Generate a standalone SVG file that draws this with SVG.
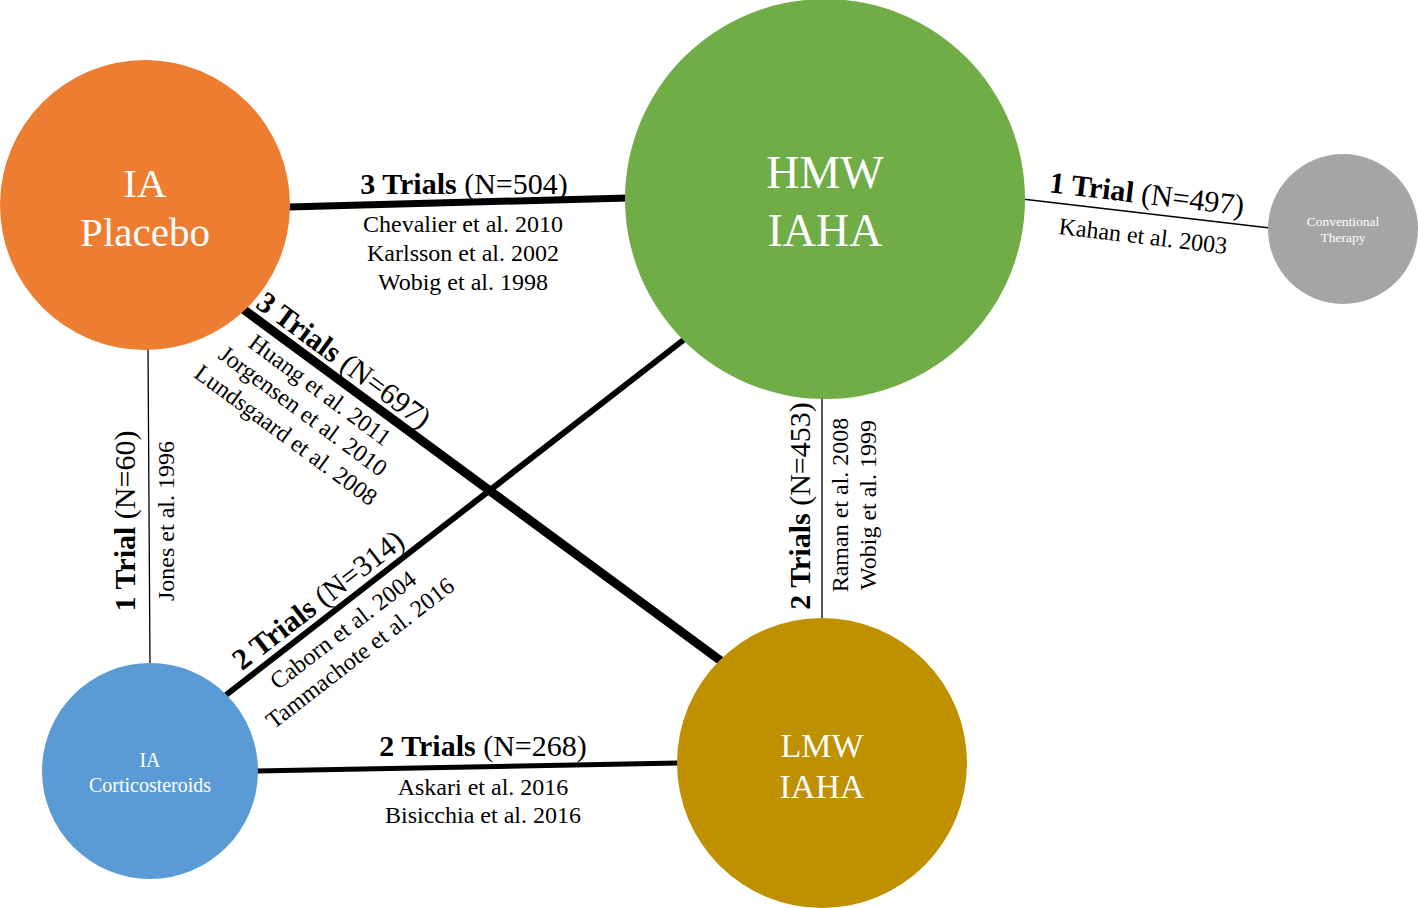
<svg xmlns="http://www.w3.org/2000/svg" width="1418" height="908" viewBox="0 0 1418 908">
<style>
text{font-family:"Liberation Serif","Times New Roman",serif;}
.lab{font-size:30px;fill:#000;text-anchor:middle;}
.cit{font-size:24px;fill:#000;text-anchor:middle;}
.b{font-weight:bold;}
.nt{fill:#fff;text-anchor:middle;}
.e{stroke:#000;fill:none;}
</style>
<rect width="1418" height="908" fill="#fff"/>
<g id="connectors">
<line class="e" x1="288" y1="207" x2="628" y2="198" stroke-width="7"/>
<line class="e" x1="1022" y1="199" x2="1270" y2="228" stroke-width="1.3"/>
<line class="e" x1="148" y1="348" x2="150" y2="665" stroke-width="1.3"/>
<line class="e" x1="243" y1="309" x2="721" y2="661" stroke-width="9"/>
<line class="e" x1="226" y1="695" x2="686" y2="338" stroke-width="6"/>
<line class="e" x1="256" y1="771" x2="679" y2="763" stroke-width="5"/>
<line class="e" x1="822" y1="396" x2="822" y2="620" stroke-width="1.3"/>
</g>
<g id="edge-labels">
<text class="lab" x="464" y="194"><tspan class="b">3 Trials</tspan> (N=504)</text>
<text class="cit" x="463" y="232">Chevalier et al. 2010</text>
<text class="cit" x="463" y="261">Karlsson et al. 2002</text>
<text class="cit" x="463" y="290">Wobig et al. 1998</text>
<g transform="translate(1147,194) rotate(6.8)"><text class="lab" y="10"><tspan class="b">1 Trial</tspan> (N=497)</text></g>
<g transform="translate(1143,236) rotate(6.8)"><text class="cit" y="8">Kahan et al. 2003</text></g>
<g transform="translate(344,360) rotate(36.4)"><text class="lab" y="10"><tspan class="b">3 Trials</tspan> (N=697)</text></g>
<g transform="translate(320,390) rotate(36.4)"><text class="cit" y="8">Huang et al. 2011</text></g>
<g transform="translate(303,411) rotate(36.4)"><text class="cit" y="8">Jorgensen et al. 2010</text></g>
<g transform="translate(286,435) rotate(36.4)"><text class="cit" y="8">Lundsgaard et al. 2008</text></g>
<g transform="translate(318,600) rotate(-37.7)"><text class="lab" y="10"><tspan class="b">2 Trials</tspan> (N=314)</text></g>
<g transform="translate(343,630) rotate(-37.7)"><text class="cit" y="8">Caborn et al. 2004</text></g>
<g transform="translate(360,653) rotate(-37.7)"><text class="cit" y="8">Tammachote et al. 2016</text></g>
<g transform="translate(125,521) rotate(-90)"><text class="lab" y="10"><tspan class="b">1 Trial</tspan> (N=60)</text></g>
<g transform="translate(166,521) rotate(-90)"><text class="cit" y="8">Jones et al. 1996</text></g>
<g transform="translate(800,506) rotate(-90)"><text class="lab" y="10"><tspan class="b">2 Trials</tspan> (N=453)</text></g>
<g transform="translate(840,505) rotate(-90)"><text class="cit" y="8">Raman et al. 2008</text></g>
<g transform="translate(868,505) rotate(-90)"><text class="cit" y="8">Wobig et al. 1999</text></g>
<text class="lab" x="483" y="756"><tspan class="b">2 Trials</tspan> (N=268)</text>
<text class="cit" x="483" y="795">Askari et al. 2016</text>
<text class="cit" x="483" y="823">Bisicchia et al. 2016</text>
</g>
<g id="node-placebo">
<circle cx="145" cy="205" r="145" fill="#ED7D31"/>
<text class="nt" x="145" y="197" font-size="41">IA</text>
<text class="nt" x="145" y="246" font-size="41">Placebo</text>
</g>
<g id="node-hmw">
<circle cx="825" cy="199" r="200" fill="#70AD47"/>
<text class="nt" x="825" y="188" font-size="46">HMW</text>
<text class="nt" x="825" y="246" font-size="46">IAHA</text>
</g>
<g id="node-conventional">
<circle cx="1343" cy="229" r="75" fill="#A5A5A5"/>
<text class="nt" x="1343" y="226" font-size="13.5">Conventional</text>
<text class="nt" x="1343" y="242" font-size="13.5">Therapy</text>
</g>
<g id="node-corticosteroids">
<circle cx="150" cy="771" r="108" fill="#5B9BD5"/>
<text class="nt" x="150" y="767" font-size="20">IA</text>
<text class="nt" x="150" y="792" font-size="20">Corticosteroids</text>
</g>
<g id="node-lmw">
<circle cx="822" cy="763" r="145" fill="#BF9000"/>
<text class="nt" x="822" y="757" font-size="34">LMW</text>
<text class="nt" x="822" y="798" font-size="34">IAHA</text>
</g>
</svg>
